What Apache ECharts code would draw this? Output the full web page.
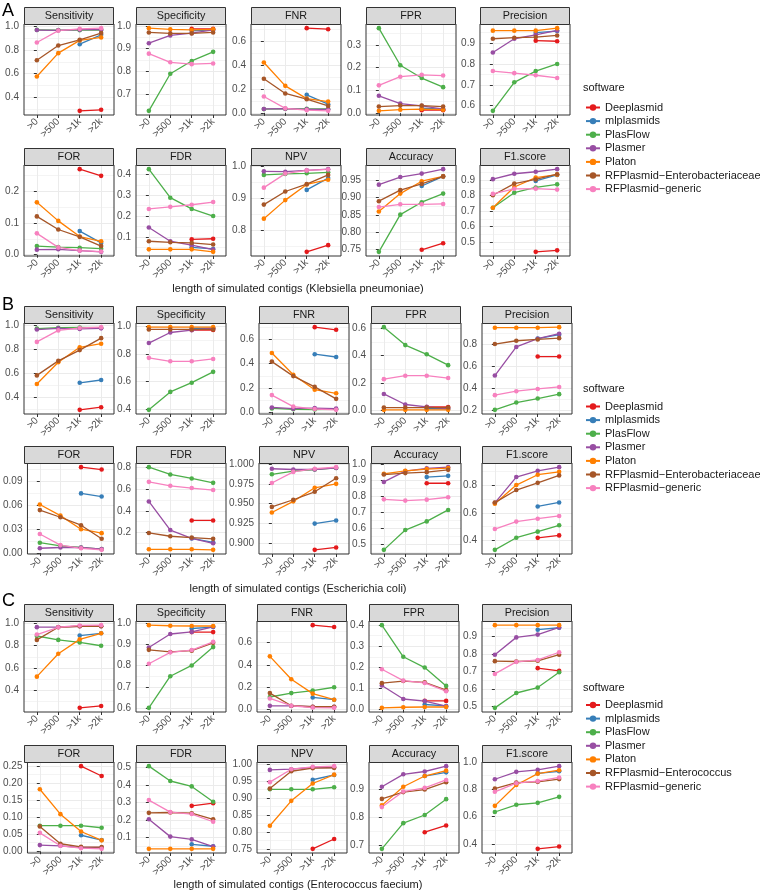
<!DOCTYPE html>
<html><head><meta charset="utf-8">
<script src="https://cdn.jsdelivr.net/npm/echarts@6/dist/echarts.min.js"></script>
<style>html,body{margin:0;padding:0;background:#fff}#c{width:760px;height:894px}</style>
</head><body><div id="c"></div>
<script>
const _ = null;
const categories = ['>0', '>500', '>1k', '>2k'];
const metrics = ['Sensitivity', 'Specificity', 'FNR', 'FPR', 'Precision', 'FOR', 'FDR', 'NPV', 'Accuracy', 'F1.score'];
const softwareAB = ['Deeplasmid', 'mlplasmids', 'PlasFlow', 'Plasmer', 'Platon', 'RFPlasmid\u2212Enterobacteriaceae', 'RFPlasmid\u2212generic'];
const softwareC = ['Deeplasmid', 'mlplasmids', 'PlasFlow', 'Plasmer', 'Platon', 'RFPlasmid\u2212Enterococcus', 'RFPlasmid\u2212generic'];
const colors = ['#E41A1C', '#377EB8', '#4DAF4A', '#984EA3', '#FF7F00', '#A65628', '#F781BF'];
const speciesTitles = ['length of simulated contigs (Klebsiella pneumoniae)', 'length of simulated contigs (Escherichia coli)', 'length of simulated contigs (Enterococcus faecium)'];
const sectionLetters = ['A', 'B', 'C'];

// ---------- A: Klebsiella pneumoniae (rows: Deeplasmid, mlplasmids, PlasFlow, Plasmer, Platon, RFPlasmid-Ent, RFPlasmid-generic)
const A_Sensitivity = [[_,_,0.288,0.297],[_,_,0.848,0.927],[0.968,0.966,0.966,0.967],[0.967,0.965,0.970,0.970],[0.577,0.773,0.880,0.905],[0.713,0.837,0.885,0.942],[0.862,0.962,0.977,0.983]];
const A_Specificity = [[_,_,0.987,0.987],[_,_,0.978,0.983],[0.627,0.790,0.846,0.886],[0.924,0.958,0.968,0.982],[0.990,0.985,0.982,0.985],[0.971,0.967,0.967,0.971],[0.878,0.840,0.832,0.835]];
const A_FNR = [[_,_,0.712,0.703],[_,_,0.152,0.073],[0.032,0.034,0.034,0.033],[0.033,0.035,0.030,0.030],[0.423,0.227,0.120,0.095],[0.287,0.163,0.115,0.058],[0.138,0.038,0.023,0.017]];
const A_FPR = [[_,_,0.013,0.013],[_,_,0.022,0.017],[0.373,0.210,0.154,0.114],[0.076,0.042,0.032,0.018],[0.010,0.015,0.018,0.015],[0.029,0.033,0.033,0.029],[0.122,0.160,0.168,0.165]];
const A_Precision = [[_,_,0.912,0.909],[_,_,0.950,0.958],[0.575,0.712,0.766,0.800],[0.855,0.921,0.940,0.961],[0.960,0.960,0.960,0.972],[0.921,0.926,0.929,0.937],[0.766,0.756,0.746,0.733]];
const A_FOR = [[_,_,0.268,0.247],[_,_,0.074,0.037],[0.027,0.024,0.022,0.019],[0.016,0.017,0.013,0.009],[0.164,0.106,0.057,0.042],[0.120,0.079,0.056,0.027],[0.067,0.023,0.013,0.010]];
const A_FDR = [[_,_,0.088,0.091],[_,_,0.050,0.042],[0.425,0.288,0.234,0.200],[0.145,0.079,0.060,0.039],[0.040,0.040,0.040,0.028],[0.079,0.074,0.071,0.063],[0.234,0.244,0.254,0.267]];
const A_NPV = [[_,_,0.732,0.753],[_,_,0.926,0.963],[0.973,0.976,0.978,0.981],[0.984,0.983,0.987,0.991],[0.836,0.894,0.943,0.958],[0.880,0.921,0.944,0.973],[0.933,0.977,0.987,0.990]];
const A_Accuracy = [[_,_,0.749,0.768],[_,_,0.934,0.962],[0.743,0.851,0.887,0.912],[0.938,0.960,0.970,0.983],[0.860,0.912,0.948,0.962],[0.890,0.922,0.940,0.962],[0.873,0.881,0.881,0.882]];
const A_F1 = [[_,_,0.435,0.445],[_,_,0.896,0.935],[0.722,0.820,0.854,0.874],[0.908,0.943,0.956,0.973],[0.722,0.857,0.918,0.937],[0.803,0.879,0.906,0.940],[0.812,0.845,0.846,0.840]];
const A_ticks = [[0.4,0.6,0.8,1.0],[0.7,0.8,0.9,1.0],[0,0.2,0.4,0.6],[0,0.1,0.2,0.3],[0.6,0.7,0.8,0.9],[0,0.1,0.2],[0.1,0.2,0.3,0.4],[0.8,0.9,1.0],[0.75,0.8,0.85,0.9,0.95],[0.5,0.6,0.7,0.8,0.9,1.0]];
const A_decimals = [1,1,1,1,1,1,1,1,2,1];

// ---------- B: Escherichia coli
const B_Sensitivity = [[_,_,0.298,0.320],[_,_,0.522,0.545],[0.970,0.977,0.979,0.977],[0.962,0.972,0.967,0.972],[0.512,0.692,0.815,0.845],[0.583,0.703,0.792,0.891],[0.860,0.955,0.975,0.982]];
const B_Specificity = [[_,_,0.974,0.974],[_,_,0.985,0.987],[0.392,0.523,0.590,0.669],[0.879,0.956,0.973,0.987],[0.995,0.995,0.995,0.995],[0.978,0.978,0.978,0.978],[0.771,0.746,0.746,0.763]];
const B_FNR = [[_,_,0.702,0.680],[_,_,0.478,0.455],[0.030,0.023,0.021,0.023],[0.038,0.028,0.033,0.028],[0.488,0.308,0.185,0.155],[0.417,0.297,0.208,0.109],[0.140,0.045,0.025,0.018]];
const B_FPR = [[_,_,0.026,0.026],[_,_,0.015,0.013],[0.608,0.477,0.410,0.331],[0.121,0.044,0.027,0.013],[0.005,0.005,0.005,0.005],[0.022,0.022,0.022,0.022],[0.229,0.254,0.254,0.237]];
const B_Precision = [[_,_,0.688,0.688],[_,_,0.853,0.889],[0.199,0.266,0.303,0.343],[0.514,0.776,0.852,0.898],[0.953,0.953,0.953,0.958],[0.803,0.833,0.845,0.857],[0.334,0.370,0.391,0.409]];
const B_FOR = [[_,_,0.108,0.105],[_,_,0.075,0.071],[0.013,0.009,0.007,0.005],[0.006,0.007,0.007,0.005],[0.061,0.047,0.030,0.025],[0.054,0.045,0.035,0.018],[0.024,0.010,0.006,0.004]];
const B_FDR = [[_,_,0.312,0.312],[_,_,0.147,0.111],[0.801,0.734,0.697,0.657],[0.486,0.224,0.148,0.102],[0.047,0.047,0.047,0.042],[0.197,0.167,0.155,0.143],[0.666,0.630,0.609,0.591]];
const B_NPV = [[_,_,0.892,0.895],[_,_,0.925,0.929],[0.987,0.991,0.993,0.995],[0.994,0.993,0.993,0.995],[0.939,0.953,0.970,0.975],[0.946,0.955,0.965,0.982],[0.976,0.990,0.994,0.996]];
const B_Accuracy = [[_,_,0.879,0.879],[_,_,0.917,0.925],[0.465,0.588,0.642,0.713],[0.887,0.954,0.971,0.979],[0.937,0.956,0.967,0.973],[0.933,0.942,0.948,0.962],[0.779,0.771,0.777,0.792]];
const B_F1 = [[_,_,0.419,0.437],[_,_,0.647,0.676],[0.332,0.420,0.464,0.510],[0.673,0.860,0.905,0.932],[0.667,0.802,0.877,0.898],[0.675,0.766,0.818,0.872],[0.483,0.537,0.558,0.578]];
const B_ticks = [[0.4,0.6,0.8,1.0],[0.4,0.6,0.8,1.0],[0,0.2,0.4,0.6],[0,0.2,0.4,0.6],[0.2,0.4,0.6,0.8],[0,0.03,0.06,0.09],[0.2,0.4,0.6,0.8],[0.9,0.925,0.95,0.975,1.0],[0.5,0.6,0.7,0.8,0.9,1.0],[0.4,0.6,0.8]];
const B_decimals = [1,1,1,1,1,2,1,3,1,1];

// ---------- C: Enterococcus faecium
const C_Sensitivity = [[_,_,0.245,0.262],[_,_,0.891,0.911],[0.887,0.852,0.830,0.800],[0.966,0.967,0.974,0.974],[0.524,0.728,0.857,0.911],[0.852,0.965,0.974,0.974],[0.900,0.965,0.981,0.984]];
const C_Specificity = [[_,_,0.959,0.959],[_,_,0.976,0.983],[0.600,0.750,0.801,0.888],[0.886,0.950,0.960,0.984],[0.992,0.989,0.988,0.988],[0.875,0.865,0.871,0.908],[0.809,0.863,0.874,0.913]];
const C_FNR = [[_,_,0.755,0.738],[_,_,0.109,0.089],[0.113,0.148,0.170,0.200],[0.034,0.033,0.026,0.026],[0.476,0.272,0.143,0.089],[0.148,0.035,0.026,0.026],[0.100,0.035,0.019,0.016]];
const C_FPR = [[_,_,0.041,0.041],[_,_,0.024,0.017],[0.400,0.250,0.199,0.112],[0.114,0.050,0.040,0.016],[0.008,0.011,0.012,0.012],[0.125,0.135,0.129,0.092],[0.191,0.137,0.126,0.087]];
const C_Precision = [[_,_,0.720,0.705],[_,_,0.940,0.951],[0.493,0.578,0.609,0.697],[0.797,0.896,0.912,0.953],[0.966,0.966,0.966,0.966],[0.760,0.758,0.762,0.797],[0.687,0.756,0.767,0.811]];
const C_FOR = [[_,_,0.250,0.221],[_,_,0.047,0.033],[0.075,0.075,0.075,0.069],[0.018,0.016,0.011,0.011],[0.182,0.109,0.058,0.032],[0.073,0.022,0.013,0.012],[0.054,0.016,0.009,0.007]];
const C_FDR = [[_,_,0.280,0.295],[_,_,0.060,0.049],[0.507,0.422,0.391,0.303],[0.203,0.104,0.088,0.047],[0.034,0.034,0.034,0.034],[0.240,0.242,0.238,0.203],[0.313,0.244,0.233,0.189]];
const C_NPV = [[_,_,0.750,0.779],[_,_,0.953,0.967],[0.925,0.925,0.925,0.931],[0.982,0.984,0.989,0.989],[0.818,0.891,0.942,0.968],[0.927,0.978,0.987,0.988],[0.946,0.984,0.991,0.993]];
const C_Accuracy = [[_,_,0.747,0.771],[_,_,0.946,0.959],[0.688,0.779,0.808,0.864],[0.908,0.952,0.962,0.981],[0.842,0.908,0.946,0.965],[0.865,0.889,0.898,0.924],[0.836,0.891,0.904,0.932]];
const C_F1 = [[_,_,0.364,0.381],[_,_,0.917,0.932],[0.634,0.687,0.701,0.745],[0.874,0.928,0.943,0.970],[0.679,0.832,0.915,0.940],[0.805,0.849,0.855,0.875],[0.782,0.845,0.860,0.887]];
const C_ticks = [[0.4,0.6,0.8,1.0],[0.6,0.7,0.8,0.9,1.0],[0,0.2,0.4,0.6],[0,0.1,0.2,0.3,0.4],[0.5,0.6,0.7,0.8,0.9],[0,0.05,0.1,0.15,0.2,0.25],[0.1,0.2,0.3,0.4,0.5],[0.75,0.8,0.85,0.9,0.95,1.0],[0.7,0.8,0.9],[0.4,0.6,0.8,1.0]];
const C_decimals = [1,1,1,1,1,2,1,2,1,1];

// ---------- layout (pixels)
const FONT = "'Liberation Sans', Arial, sans-serif";
const PW = 90, PH = 91, STRIP = 17;
const layouts = [
  {cols: [24, 136, 251, 366, 480], rows: [24, 165], title: 289, letterY: 2, legendTop: 101.5, swTitle: 88},
  {cols: [24, 136, 259, 371, 482], rows: [323, 463], title: 589, letterY: 296, legendTop: 400.5, swTitle: 389},
  {cols: [24, 136, 257, 369, 482], rows: [621, 762], title: 885, letterY: 592, legendTop: 699, swTitle: 688}
];
const sections = [
  {panels: [A_Sensitivity, A_Specificity, A_FNR, A_FPR, A_Precision, A_FOR, A_FDR, A_NPV, A_Accuracy, A_F1], ticks: A_ticks, dec: A_decimals, software: softwareAB},
  {panels: [B_Sensitivity, B_Specificity, B_FNR, B_FPR, B_Precision, B_FOR, B_FDR, B_NPV, B_Accuracy, B_F1], ticks: B_ticks, dec: B_decimals, software: softwareAB},
  {panels: [C_Sensitivity, C_Specificity, C_FNR, C_FPR, C_Precision, C_FOR, C_FDR, C_NPV, C_Accuracy, C_F1], ticks: C_ticks, dec: C_decimals, software: softwareC}
];

const option = {animation: false, textStyle: {fontFamily: FONT}, grid: [], xAxis: [], yAxis: [], series: [], legend: [], graphic: []};
const catIdx = categories.map((c, i) => i);

sections.forEach((sec, s) => {
  const L = layouts[s];
  sec.panels.forEach((panel, p) => {
    const r = Math.floor(p / 5), c = p % 5;
    const left = L.cols[c], top = L.rows[r];
    const gi = option.grid.length;
    const vals = [].concat(...panel).filter(v => v != null);
    const mn = Math.min(...vals), mx = Math.max(...vals), pad = (mx - mn) * 0.05;
    const ymin = mn - pad, ymax = mx + pad;
    const ticks = sec.ticks[p], dec = sec.dec[p];
    const step = ticks[1] - ticks[0];
    const minors = [];
    for (let m = ticks[0] - step / 2; m <= ymax + 1e-9; m += step) { if (m >= ymin) minors.push(+m.toFixed(6)); }

    option.grid.push({left: left, top: top, width: PW, height: PH, show: true, borderColor: '#333333', borderWidth: 1, backgroundColor: 'transparent', z: 1});
    option.xAxis.push({
      type: 'value', gridIndex: gi, min: -0.6, max: 3.6,
      axisLine: {show: false},
      axisTick: {show: true, length: 3, customValues: catIdx, lineStyle: {color: '#333333'}},
      axisLabel: {customValues: catIdx, formatter: v => categories[Math.round(v)], rotate: 45, fontSize: 10, color: '#4D4D4D', margin: 5, fontFamily: FONT},
      splitLine: {show: true, customValues: catIdx, lineStyle: {color: '#EBEBEB', width: 1}}
    });
    option.yAxis.push({
      type: 'value', gridIndex: gi, min: ymin, max: ymax,
      axisLine: {show: false},
      axisTick: {show: true, length: 3, customValues: ticks, lineStyle: {color: '#333333'}},
      axisLabel: {customValues: ticks, formatter: v => Number(v).toFixed(dec), fontSize: 10, color: '#4D4D4D', margin: 5, fontFamily: FONT},
      splitLine: {show: true, customValues: ticks, lineStyle: {color: '#EBEBEB', width: 1}}
    });
    option.yAxis.push({
      type: 'value', gridIndex: gi, min: ymin, max: ymax,
      axisLine: {show: false},
      axisTick: {show: false, customValues: minors},
      axisLabel: {show: false, customValues: minors},
      splitLine: {show: true, customValues: minors, lineStyle: {color: '#F4F4F4', width: 1}}
    });
    panel.forEach((series, k) => {
      option.series.push({
        type: 'line', name: sec.software[k], xAxisIndex: gi, yAxisIndex: 2 * gi,
        data: series.map((v, i) => v == null ? null : [i, v]).filter(d => d),
        symbol: 'circle', symbolSize: 4.6, showSymbol: true, color: colors[k],
        lineStyle: {width: 1.3, color: colors[k]}, itemStyle: {color: colors[k]},
        silent: true, z: 3, emphasis: {disabled: true}
      });
    });
    option.graphic.push({type: 'rect', silent: true, z: 10, shape: {x: left + 0.5, y: top - STRIP + 0.5, width: PW - 1, height: STRIP}, style: {fill: '#D9D9D9', stroke: '#333333', lineWidth: 1}});
    option.graphic.push({type: 'text', silent: true, z: 11, x: left + PW / 2, y: top - STRIP / 2 + 0.5, style: {text: metrics[p], fontSize: 10.8, fontFamily: FONT, fill: '#1A1A1A', align: 'center', verticalAlign: 'middle'}});
  });
  option.legend.push({
    left: 585, top: L.legendTop, orient: 'vertical', data: sec.software, padding: 0,
    itemWidth: 14, itemHeight: 8, itemGap: 1.6, selectedMode: false,
    textStyle: {fontSize: 11, color: '#1A1A1A', lineHeight: 12, fontFamily: FONT}
  });
  option.graphic.push({type: 'text', silent: true, x: 583, y: L.swTitle, style: {text: 'software', fontSize: 11, fontFamily: FONT, fill: '#1A1A1A', align: 'left', verticalAlign: 'middle'}});
  option.graphic.push({type: 'text', silent: true, x: 298, y: L.title, style: {text: speciesTitles[s], fontSize: 11, fontFamily: FONT, fill: '#1A1A1A', align: 'center', verticalAlign: 'middle'}});
  option.graphic.push({type: 'text', silent: true, x: 2, y: L.letterY, style: {text: sectionLetters[s], fontSize: 18, fontFamily: FONT, fill: '#000000', align: 'left', verticalAlign: 'top'}});
});

const chart = echarts.init(document.getElementById('c'), null, {renderer: 'canvas'});
chart.setOption(option);
</script>
</body></html>
